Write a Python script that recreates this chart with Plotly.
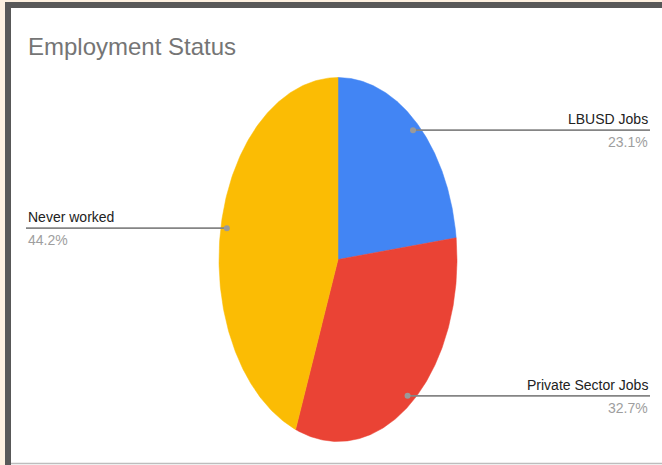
import numpy as np
import plotly.graph_objects as go

# ---- data ----
labels = ["LBUSD Jobs", "Private Sector Jobs", "Never worked"]
values = [23.1, 32.7, 44.2]
colors = ["#4285F4", "#EA4335", "#FBBC04"]
title_text = "Employment Status"

# ---- layout geometry (pixels, axes map 1:1 to the 662x465 canvas) ----
W, H = 662, 465
CX, CY = 338, 259.5
RX, RY = 119, 182
LEADER_F = 0.95
RIGHT_X = 650
LEFT_X = 26

FONT = "Liberation Sans, Arial, sans-serif"

fig = go.Figure()

total = sum(values)
fracs = [v / total for v in values]
start = 0.0
label_info = []
for lab, fr, col in zip(labels, fracs, colors):
    a0 = start * 2 * np.pi
    a1 = (start + fr) * 2 * np.pi
    t = np.linspace(a0, a1, 200)
    xs = np.concatenate([[CX], CX + RX * np.sin(t), [CX]])
    ys = np.concatenate([[CY], CY - RY * np.cos(t), [CY]])
    fig.add_trace(go.Scatter(x=xs, y=ys, mode="lines", fill="toself",
                             fillcolor=col, line=dict(color=col, width=0.5),
                             hoverinfo="skip", showlegend=False))
    mid = (start + fr / 2) * 2 * np.pi
    dx = CX + LEADER_F * RX * np.sin(mid)
    dy = CY - LEADER_F * RY * np.cos(mid)
    label_info.append((lab, fr, dx, dy, np.sin(mid) >= 0))
    start += fr

annotations = []
for lab, fr, dx, dy, right in label_info:
    ex = RIGHT_X if right else LEFT_X
    fig.add_trace(go.Scatter(x=[dx, ex], y=[dy, dy], mode="lines",
                             line=dict(color="#858585", width=1.8),
                             hoverinfo="skip", showlegend=False))
    fig.add_trace(go.Scatter(x=[dx], y=[dy], mode="markers",
                             marker=dict(color="#9a9a9a", size=6),
                             hoverinfo="skip", showlegend=False))
    anchor = "right" if right else "left"
    annotations.append(dict(x=ex, y=dy - 11, xref="x", yref="y", text=lab,
                            showarrow=False, xanchor=anchor, yanchor="middle",
                            font=dict(family=FONT, size=14, color="#222222")))
    annotations.append(dict(x=ex, y=dy + 12, xref="x", yref="y",
                            text=f"{fr*100:.1f}%", showarrow=False,
                            xanchor=anchor, yanchor="middle",
                            font=dict(family=FONT, size=14, color="#9e9e9e")))

annotations.append(dict(x=26, y=46, xref="x", yref="y", text=title_text,
                        showarrow=False, xanchor="left", yanchor="middle",
                        font=dict(family=FONT, size=24, color="#757575")))

shapes = [
    # outer cream strip
    dict(type="rect", xref="x", yref="y", x0=0, x1=W, y0=0, y1=2,
         fillcolor="#FDF0E0", line=dict(width=0), layer="below"),
    dict(type="rect", xref="x", yref="y", x0=0, x1=5, y0=0, y1=H,
         fillcolor="#FDF0E0", line=dict(width=0), layer="below"),
    # dark frame (top + left)
    dict(type="rect", xref="x", yref="y", x0=5, x1=W, y0=2, y1=8,
         fillcolor="#585858", line=dict(width=0), layer="below"),
    dict(type="rect", xref="x", yref="y", x0=5, x1=11, y0=2, y1=H,
         fillcolor="#585858", line=dict(width=0), layer="below"),
    # bottom light line
    dict(type="line", xref="x", yref="y", x0=11, x1=W, y0=463.5, y1=463.5,
         line=dict(color="#bdbdbd", width=1.5), layer="below"),
]

fig.update_layout(
    width=W, height=H, autosize=False,
    margin=dict(l=0, r=0, t=0, b=0),
    paper_bgcolor="white", plot_bgcolor="white",
    xaxis=dict(range=[0, W], visible=False, fixedrange=True),
    yaxis=dict(range=[H, 0], visible=False, fixedrange=True),
    shapes=shapes, annotations=annotations,
    showlegend=False,
)

fig.write_html("out.html", config={"displayModeBar": False},
               post_script="document.body.style.margin='0';document.body.style.overflow='hidden';")
